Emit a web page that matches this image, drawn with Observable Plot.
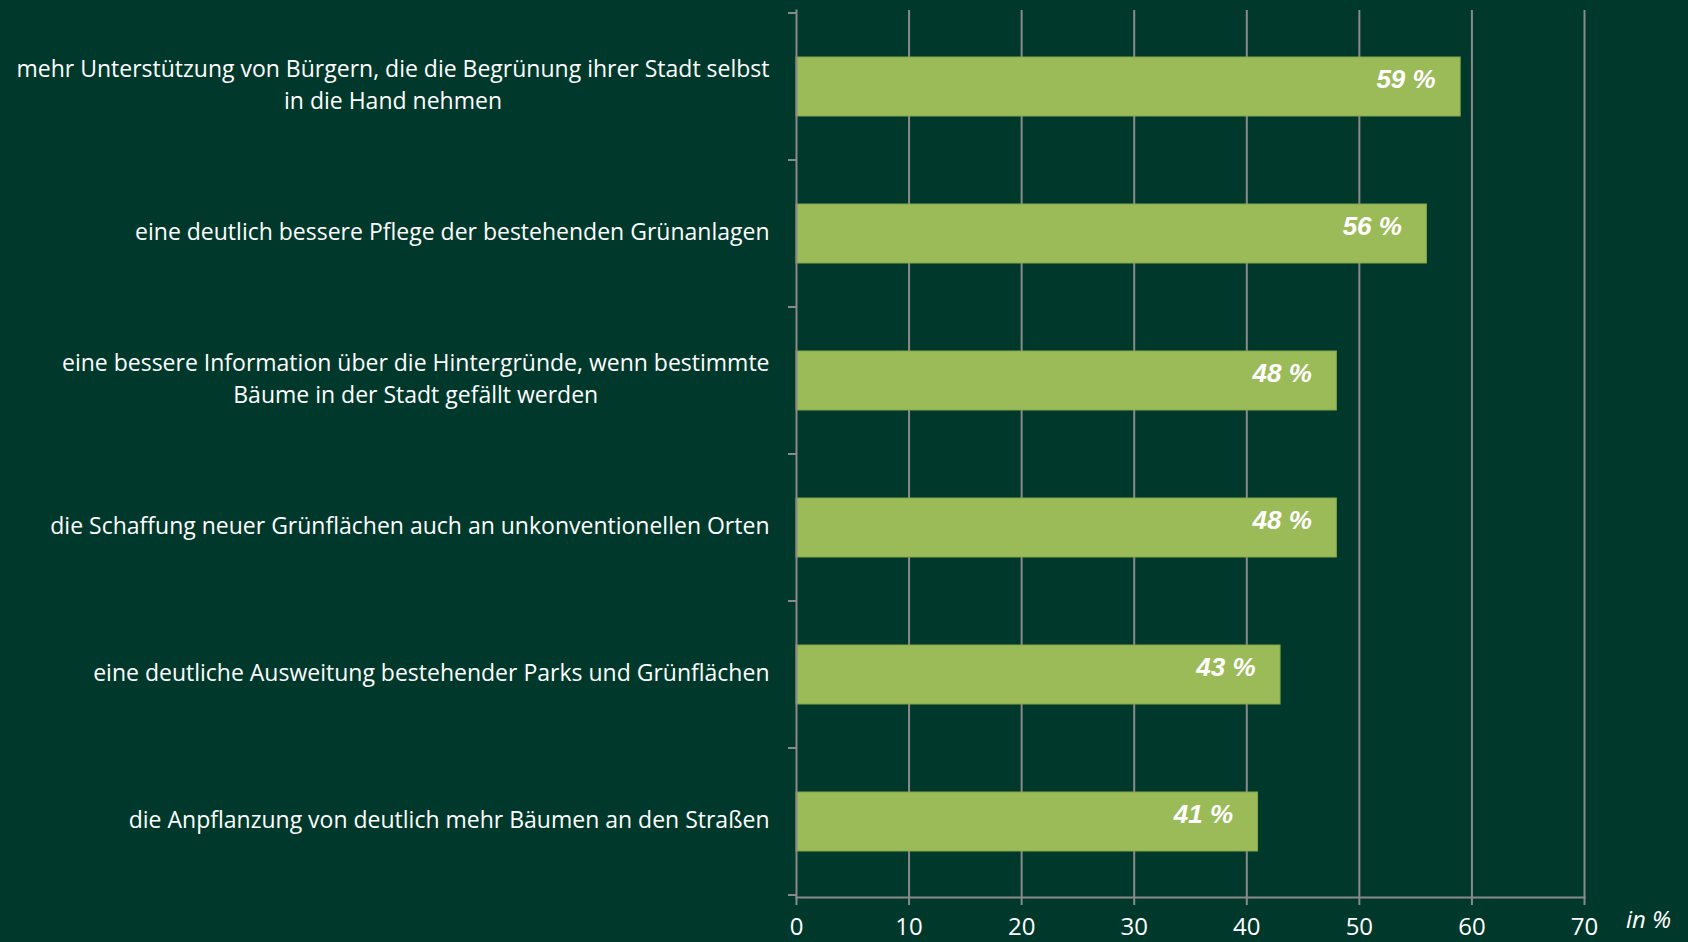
<!DOCTYPE html>
<html>
<head>
<meta charset="utf-8">
<script src="https://cdn.jsdelivr.net/npm/d3@7"></script>
<script src="https://cdn.jsdelivr.net/npm/@observablehq/plot@0.6"></script>
<style>
  html, body { margin: 0; padding: 0; background: #00392B; }
  #chart svg { display: block; }
</style>
</head>
<body>
<div id="chart"></div>
<script>
const categories = [
  "mehr Unterstützung von Bürgern, die die Begrünung ihrer Stadt selbst\nin die Hand nehmen",
  "eine deutlich bessere Pflege der bestehenden Grünanlagen",
  "eine bessere Information über die Hintergründe, wenn bestimmte\nBäume in der Stadt gefällt werden",
  "die Schaffung neuer Grünflächen auch an unkonventionellen Orten",
  "eine deutliche Ausweitung bestehender Parks und Grünflächen",
  "die Anpflanzung von deutlich mehr Bäumen an den Straßen"
];
const values = [59, 56, 48, 48, 43, 41];
const xTicks = [0, 10, 20, 30, 40, 50, 60, 70];
const unitLabel = "in %";

const data = categories.map((c, i) => ({cat: c, value: values[i]}));
const gray = "#8a8a8a";

// y-axis boundary ticks (between bands), drawn from the band scale
function yBoundaryTicks(index, scales, values, dimensions) {
  const y = scales.y;
  const step = y.step();
  const bw = y.bandwidth();
  const g = d3.create("svg:g");
  const x0 = dimensions.marginLeft;
  const bounds = categories.map(c => y(c) + bw / 2 - step / 2);
  bounds.push(y(categories[categories.length - 1]) + bw / 2 + step / 2);
  for (const b of bounds) {
    g.append("line")
      .attr("x1", x0 - 8).attr("x2", x0)
      .attr("y1", b).attr("y2", b)
      .attr("stroke", gray).attr("stroke-width", 2);
  }
  return g.node();
}

const chart = Plot.plot({
  width: 1688,
  height: 942,
  marginLeft: 796,
  marginRight: 104,
  marginTop: 10,
  marginBottom: 45,
  style: {background: "#00392B", color: "#ffffff", fontFamily: "'Open Sans', sans-serif"},
  x: {domain: [0, 70], ticks: xTicks, label: null},
  y: {domain: categories, paddingInner: 0.6, paddingOuter: 0.3, axis: null},
  marks: [
    Plot.gridX(xTicks.slice(1), {stroke: gray, strokeOpacity: 1, strokeWidth: 2}),
    Plot.barX(data, {x: "value", y: "cat", fill: "#9BBB59", stroke: "#86a64a", strokeWidth: 1}),
    Plot.frame({anchor: "left", stroke: gray, strokeWidth: 2}),
    Plot.frame({anchor: "bottom", stroke: gray, strokeWidth: 2}),
    yBoundaryTicks,
    Plot.axisX({ticks: xTicks, tickSize: 8, tickPadding: 12, stroke: gray, strokeWidth: 2, fontSize: 24, fill: "#ffffff", tickFormat: d => String(d)}),
    Plot.text(data, {
      y: "cat", text: "cat", frameAnchor: "left", dx: -27, dy: -4, textAnchor: "end",
      fontSize: 23, lineHeight: 1.4, fill: "#ffffff"
    }),
    Plot.text(data, {
      x: "value", y: "cat", text: d => d.value + " %", textAnchor: "end",
      dx: -25, dy: -7, fill: "#ffffff", fontSize: 26, fontWeight: "bold",
      fontStyle: "italic", fontFamily: "'Liberation Sans', Arial, sans-serif"
    }),
    Plot.text([unitLabel], {
      frameAnchor: "bottom-right", dx: 64, dy: 30, textAnchor: "middle",
      fontSize: 24, fontStyle: "italic", fill: "#ffffff"
    })
  ]
});

document.getElementById("chart").appendChild(chart);

// center multi-line category labels while keeping the block right-aligned
d3.select(chart).selectAll("text").each(function() {
  const t = this;
  if (t.textContent && t.querySelectorAll("tspan").length > 1) {
    const w = t.getBBox().width;
    t.setAttribute("text-anchor", "middle");
    const tr = t.getAttribute("transform") || "";
    t.setAttribute("transform", tr + ` translate(${-w / 2},0)`);
  }
});
</script>
</body>
</html>
